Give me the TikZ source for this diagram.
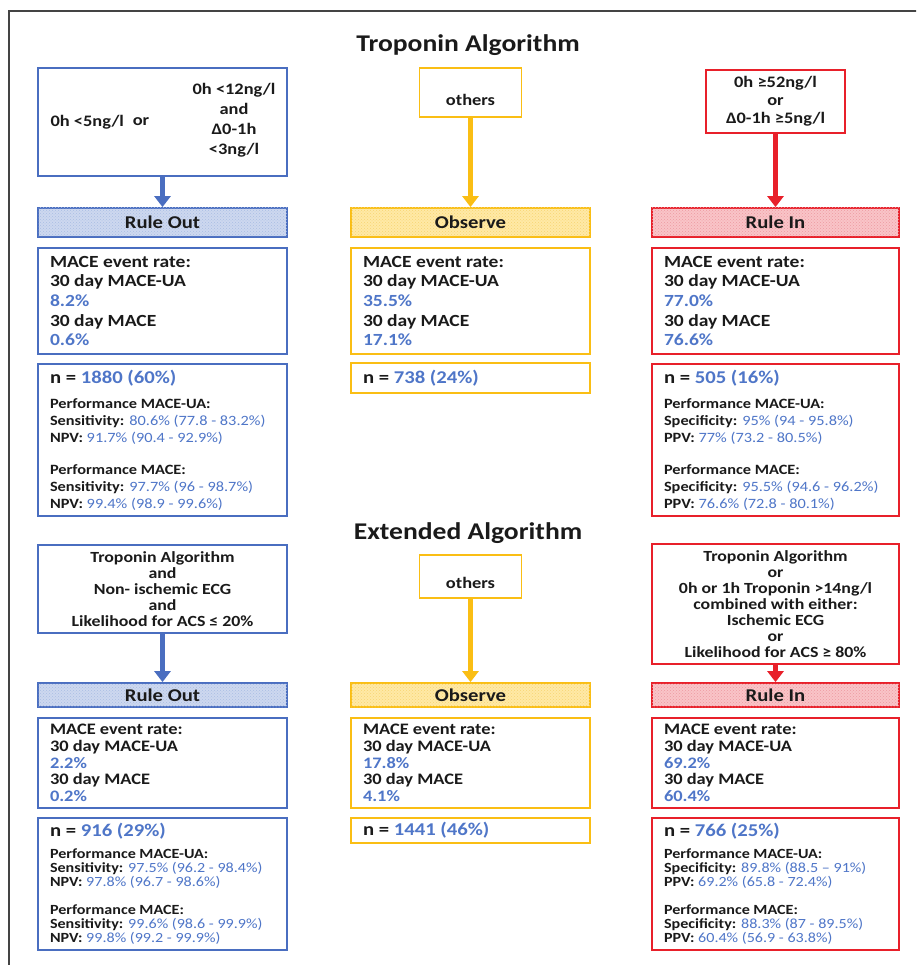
\documentclass[tikz,border=0pt]{standalone}
\usepackage{fontspec}
\setmainfont{Carlito}[FakeStretch=1.15]
\usetikzlibrary{arrows.meta,patterns}
\definecolor{bc}{HTML}{4A6EC0}
\definecolor{yc}{HTML}{FABE14}
\definecolor{rc}{HTML}{E8202A}
\definecolor{bfillc}{HTML}{CDD8EF}
\definecolor{yfillc}{HTML}{FFE9A6}
\definecolor{rfillc}{HTML}{F9C4C8}
\definecolor{bpatc}{HTML}{A9BCE3}
\definecolor{ypatc}{HTML}{F7D572}
\definecolor{rpatc}{HTML}{EE9AA0}
\definecolor{valc}{HTML}{4F76C8}
\definecolor{txtc}{HTML}{1A1A1A}
\definecolor{framec}{HTML}{444444}
\newcommand\valtxt[1]{\textcolor{valc}{#1}}
\newcommand\valreg[1]{\textcolor{valc}{\mdseries #1}}
\begin{document}
\begin{tikzpicture}[x=1pt,y=-1pt,
  every node/.style={text=txtc, font=\bfseries},
  bx/.style={draw=#1, line width=1.8pt, inner xsep=12pt, inner ysep=0pt, align=flush left},
  cbx/.style={draw=#1, line width=1.8pt, inner sep=0pt, align=center},
  hd/.style n args={3}{draw=#1, fill=#2, postaction={pattern=crosshatch dots, pattern color=#3},
     line width=1.8pt, inner sep=0pt, font=\bfseries\fontsize{18}{20}\selectfont},
  ttl/.style={font=\bfseries\fontsize{24}{28}\selectfont},
  arr/.style={draw=#1, line width=5pt, -{Triangle[width=16pt,length=11pt]}},
  bcol/.style={minimum width=249pt, text width=225pt},
  ycol/.style={minimum width=239pt, text width=215pt},
  rcol/.style={minimum width=247pt, text width=223pt},
  maceU/.style={font=\bfseries\fontsize{17}{19.6}\selectfont, minimum height=106pt},
  maceL/.style={font=\bfseries\fontsize{16}{16.7}\selectfont, minimum height=90pt},
  perfU/.style={font=\bfseries\fontsize{14.2}{16.7}\selectfont, minimum height=152pt},
  perfL/.style={font=\bfseries\fontsize{14}{14}\selectfont, minimum height=132pt},
]
\useasboundingbox (0,0) rectangle (916,965);
\clip (0,0) rectangle (916,965);
\fill[white] (0,0) rectangle (916,965);
\draw[framec, line width=2pt] (9,11) rectangle (950,1000);

% ---------------- Troponin Algorithm ----------------
\node[ttl] (t1) at (468,45) {Troponin Algorithm};

\node[cbx=bc, minimum width=249pt, minimum height=108pt] (c1) at (162.5,122) {};
\node[font=\bfseries\fontsize{16}{20}\selectfont, anchor=west] (c1a) at (47,122) {0h <5ng/l};
\node[font=\bfseries\fontsize{16}{20}\selectfont] (c1b) at (141,122) {or};
\node[font=\bfseries\fontsize{16}{20}\selectfont, align=center] (c1c) at (234,120) {0h <12ng/l\\and\\Δ0-1h\\<3ng/l};

\node[cbx=yc, minimum width=102pt, minimum height=49pt] (o1) at (470.5,92.5) {};
\node[font=\bfseries\fontsize{16}{20}\selectfont] (o1t) at (470.5,100) {others};

\node[cbx=rc, minimum width=139pt, minimum height=63pt, font=\bfseries\fontsize{16}{18}\selectfont] (r1) at (775.5,101.5) {0h ≥52ng/l\\or\\Δ0-1h ≥5ng/l};

\node[hd={bc}{bfillc}{bpatc}, minimum width=249pt, minimum height=29pt] (h1) at (162.5,222.5) {Rule Out};
\node[hd={yc}{yfillc}{ypatc}, minimum width=239pt, minimum height=29pt] (h2) at (470.5,222.5) {Observe};
\node[hd={rc}{rfillc}{rpatc}, minimum width=247pt, minimum height=29pt] (h3) at (775.5,222.5) {Rule In};

\draw[arr=bc] (c1.south) -- (h1.north);
\draw[arr=yc] (o1.south) -- (h2.north);
\draw[arr=rc] (r1.south) -- (h3.north);

\node[bx=bc, bcol, maceU] (m1) at (162.5,301) {MACE event rate:\\30 day MACE-UA\\\valtxt{8.2\%}\\30 day MACE\\\valtxt{0.6\%}};
\node[bx=yc, ycol, maceU] (m2) at (470.5,301) {MACE event rate:\\30 day MACE-UA\\\valtxt{35.5\%}\\30 day MACE\\\valtxt{17.1\%}};
\node[bx=rc, rcol, maceU] (m3) at (775.5,301) {MACE event rate:\\30 day MACE-UA\\\valtxt{77.0\%}\\30 day MACE\\\valtxt{76.6\%}};

\node[bx=bc, bcol, perfU] (n1) at (162.5,440) {{\fontsize{18}{20}\selectfont n = \valtxt{1880 (60\%)}}\\[9pt]
Performance MACE-UA:\\Sensitivity: \valreg{80.6\% (77.8 - 83.2\%)}\\NPV: \valreg{91.7\% (90.4 - 92.9\%)}\\[16pt]
Performance MACE:\\Sensitivity: \valreg{97.7\% (96 - 98.7\%)}\\NPV: \valreg{99.4\% (98.9 - 99.6\%)}};
\node[bx=yc, ycol, minimum height=30pt, font=\bfseries\fontsize{18}{20}\selectfont] (n2) at (470.5,378) {n = \valtxt{738 (24\%)}};
\node[bx=rc, rcol, perfU] (n3) at (775.5,440) {{\fontsize{18}{20}\selectfont n = \valtxt{505 (16\%)}}\\[9pt]
Performance MACE-UA:\\Specificity: \valreg{95\% (94 - 95.8\%)}\\PPV: \valreg{77\% (73.2 - 80.5\%)}\\[16pt]
Performance MACE:\\Specificity: \valreg{95.5\% (94.6 - 96.2\%)}\\PPV: \valreg{76.6\% (72.8 - 80.1\%)}};

% ---------------- Extended Algorithm ----------------
\node[ttl] (t2) at (468,533) {Extended Algorithm};

\node[cbx=bc, minimum width=249pt, minimum height=88pt, font=\bfseries\fontsize{15.5}{16}\selectfont] (c4) at (162.5,589) {Troponin Algorithm\\and\\Non- ischemic ECG\\and\\Likelihood for ACS ≤ 20\%};

\node[cbx=yc, minimum width=102pt, minimum height=43pt] (o2) at (470.5,576.5) {};
\node[font=\bfseries\fontsize{16}{20}\selectfont] (o2t) at (470.5,583) {others};

\node[cbx=rc, minimum width=247pt, minimum height=120pt, font=\bfseries\fontsize{15.5}{16}\selectfont] (c6) at (775.5,604) {Troponin Algorithm\\or\\0h or 1h Troponin >14ng/l\\combined with either:\\Ischemic ECG\\or\\Likelihood for ACS ≥ 80\%};

\node[hd={bc}{bfillc}{bpatc}, minimum width=249pt, minimum height=24pt] (h4) at (162.5,695) {Rule Out};
\node[hd={yc}{yfillc}{ypatc}, minimum width=239pt, minimum height=24pt] (h5) at (470.5,695) {Observe};
\node[hd={rc}{rfillc}{rpatc}, minimum width=247pt, minimum height=24pt] (h6) at (775.5,695) {Rule In};

\draw[arr=bc] (c4.south) -- (h4.north);
\draw[arr=yc] (o2.south) -- (h5.north);
\draw[arr=rc] (c6.south) -- (h6.north);

\node[bx=bc, bcol, maceL] (m4) at (162.5,763) {MACE event rate:\\30 day MACE-UA\\\valtxt{2.2\%}\\30 day MACE\\\valtxt{0.2\%}};
\node[bx=yc, ycol, maceL] (m5) at (470.5,763) {MACE event rate:\\30 day MACE-UA\\\valtxt{17.8\%}\\30 day MACE\\\valtxt{4.1\%}};
\node[bx=rc, rcol, maceL] (m6) at (775.5,763) {MACE event rate:\\30 day MACE-UA\\\valtxt{69.2\%}\\30 day MACE\\\valtxt{60.4\%}};

\node[bx=bc, bcol, perfL] (n4) at (162.5,884) {{\fontsize{18}{20}\selectfont n = \valtxt{916 (29\%)}}\\[8pt]
Performance MACE-UA:\\Sensitivity: \valreg{97.5\% (96.2 - 98.4\%)}\\NPV: \valreg{97.8\% (96.7 - 98.6\%)}\\[14pt]
Performance MACE:\\Sensitivity: \valreg{99.6\% (98.6 - 99.9\%)}\\NPV: \valreg{99.8\% (99.2 - 99.9\%)}};
\node[bx=yc, ycol, minimum height=25pt, font=\bfseries\fontsize{18}{20}\selectfont] (n5) at (470.5,830.5) {n = \valtxt{1441 (46\%)}};
\node[bx=rc, rcol, perfL] (n6) at (775.5,884) {{\fontsize{18}{20}\selectfont n = \valtxt{766 (25\%)}}\\[8pt]
Performance MACE-UA:\\Specificity: \valreg{89.8\% (88.5 – 91\%)}\\PPV: \valreg{69.2\% (65.8 - 72.4\%)}\\[14pt]
Performance MACE:\\Specificity: \valreg{88.3\% (87 - 89.5\%)}\\PPV: \valreg{60.4\% (56.9 - 63.8\%)}};
\end{tikzpicture}
\end{document}
